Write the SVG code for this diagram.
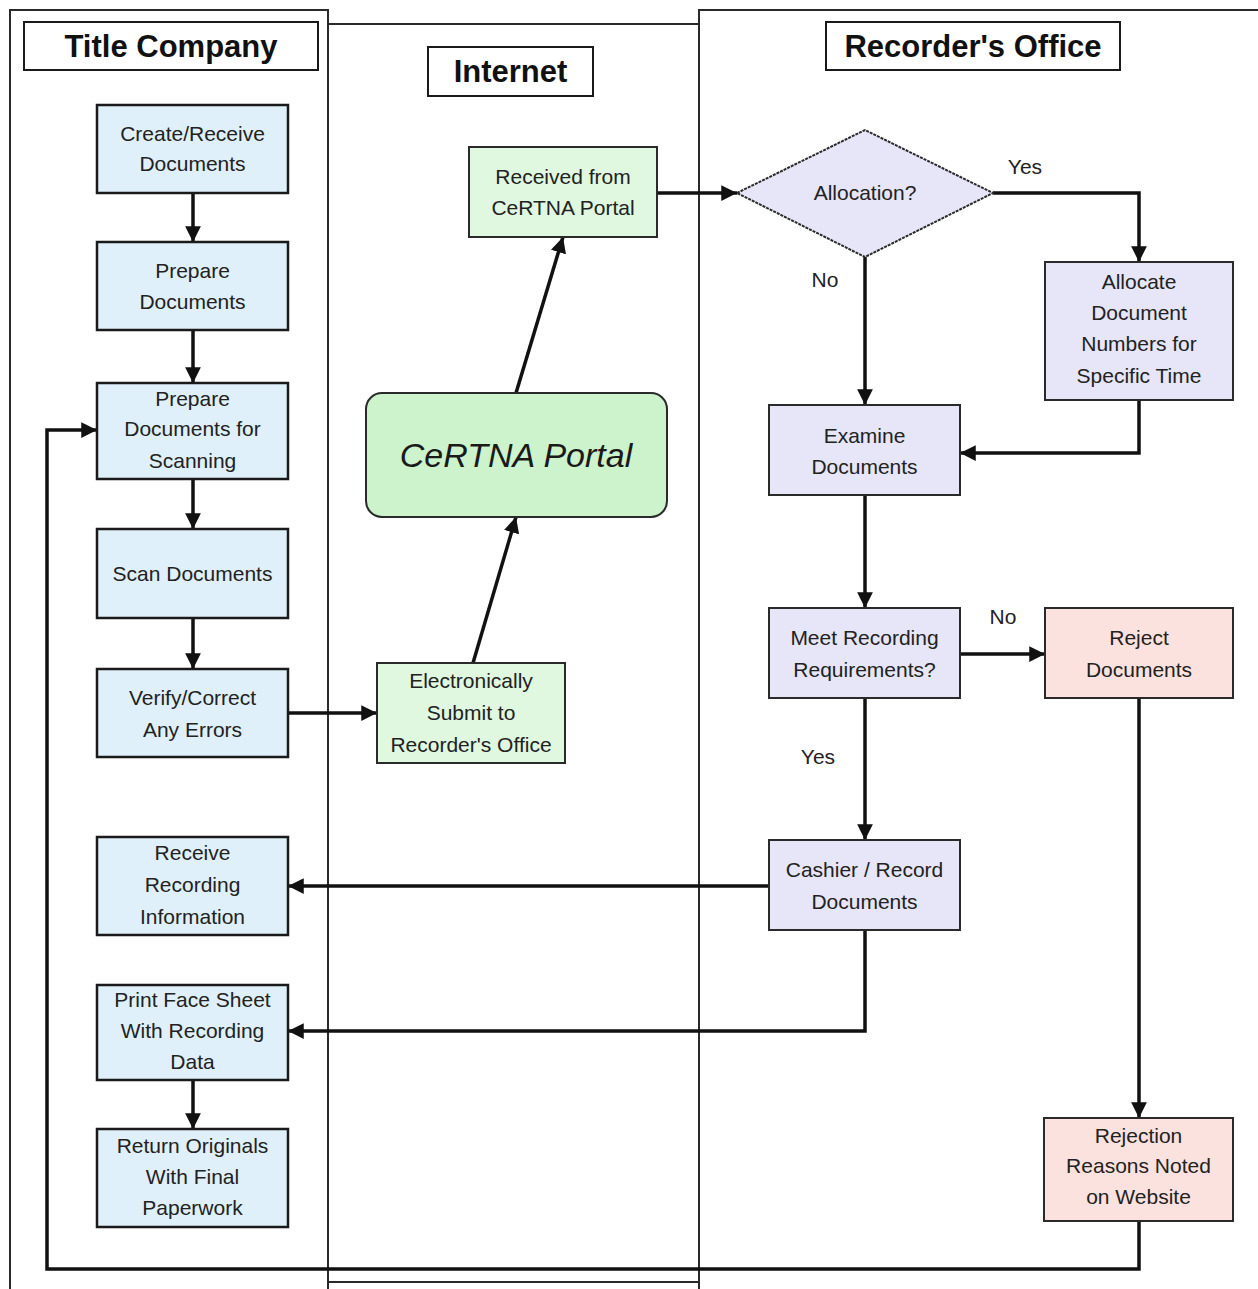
<svg xmlns="http://www.w3.org/2000/svg" width="1258" height="1289" viewBox="0 0 1258 1289">
<defs>
<style>
.lane{fill:none;stroke:#2a2a2a;stroke-width:2}
.hdr{fill:#fff;stroke:#1a1a1a;stroke-width:2}
.hdrt{font-family:"Liberation Sans",Arial,sans-serif;font-weight:bold;font-size:31px;fill:#111;text-anchor:middle}
.t{font-family:"Liberation Sans",Arial,sans-serif;font-size:21px;fill:#222;text-anchor:middle}
.tc{fill:#e0f0fa;stroke:#1a1a1a;stroke-width:2.5}
.ro{fill:#e6e6f8;stroke:#2a2a2a;stroke-width:2}
.rj{fill:#fce2de;stroke:#2a2a2a;stroke-width:2}
.gr{fill:#e0f8e0;stroke:#2a2a2a;stroke-width:2}
.cn{fill:none;stroke:#111;stroke-width:3.5}
</style>
<marker id="ah" viewBox="0 0 10 10" refX="10" refY="5" markerWidth="4.5" markerHeight="4.5" orient="auto" markerUnits="strokeWidth">
<path d="M0 0 L10 5 L0 10 Z" fill="#111"/>
</marker>
</defs>
<rect width="1258" height="1289" fill="#fff"/>
<g id="lanes">
<path class="lane" d="M10 1289 V10 H328 V1289"/>
<path class="lane" d="M328 24 H699 M328 1282 H699"/>
<path class="lane" d="M699 1289 V10 H1258"/>
<rect class="hdr" x="24" y="22" width="294" height="48"/>
<text class="hdrt" x="171" y="57">Title Company</text>
<rect class="hdr" x="428" y="47" width="165" height="49"/>
<text class="hdrt" x="510.5" y="82">Internet</text>
<rect class="hdr" x="826" y="22" width="294" height="48"/>
<text class="hdrt" x="973" y="57">Recorder's Office</text>
</g>
<g id="connectors">
<path class="cn" d="M193 193 V242" marker-end="url(#ah)"/>
<path class="cn" d="M193 330 V383" marker-end="url(#ah)"/>
<path class="cn" d="M193 479 V529" marker-end="url(#ah)"/>
<path class="cn" d="M193 618 V669" marker-end="url(#ah)"/>
<path class="cn" d="M193 1080 V1129" marker-end="url(#ah)"/>
<path class="cn" d="M288 713 H377" marker-end="url(#ah)"/>
<path class="cn" d="M473 663 L516 517" marker-end="url(#ah)"/>
<path class="cn" d="M516 393 L563 237" marker-end="url(#ah)"/>
<path class="cn" d="M657 193 H737" marker-end="url(#ah)"/>
<path class="cn" d="M993 193 H1139 V262" marker-end="url(#ah)"/>
<path class="cn" d="M865 257 V405" marker-end="url(#ah)"/>
<path class="cn" d="M1139 400 V453 H960" marker-end="url(#ah)"/>
<path class="cn" d="M865 495 V608" marker-end="url(#ah)"/>
<path class="cn" d="M960 654 H1045" marker-end="url(#ah)"/>
<path class="cn" d="M865 698 V840" marker-end="url(#ah)"/>
<path class="cn" d="M769 886 H288" marker-end="url(#ah)"/>
<path class="cn" d="M865 930 V1031 H288" marker-end="url(#ah)"/>
<path class="cn" d="M1139 698 V1118" marker-end="url(#ah)"/>
<path class="cn" d="M1139 1221 V1269 H47 V430 H97" marker-end="url(#ah)"/>
<text class="t" x="1025" y="174">Yes</text>
<text class="t" x="825" y="287">No</text>
<text class="t" x="1003" y="624">No</text>
<text class="t" x="818" y="764">Yes</text>
</g>
<g id="create">
<rect class="tc" x="97" y="105" width="191" height="88"/>
<text class="t" x="192.5" y="141">Create/Receive</text>
<text class="t" x="192.5" y="171">Documents</text>
</g>
<g id="prepare">
<rect class="tc" x="97" y="242" width="191" height="88"/>
<text class="t" x="192.5" y="278">Prepare</text>
<text class="t" x="192.5" y="309">Documents</text>
</g>
<g id="prepscan">
<rect class="tc" x="97" y="383" width="191" height="96"/>
<text class="t" x="192.5" y="406">Prepare</text>
<text class="t" x="192.5" y="436">Documents for</text>
<text class="t" x="192.5" y="468">Scanning</text>
</g>
<g id="scan">
<rect class="tc" x="97" y="529" width="191" height="89"/>
<text class="t" x="192.5" y="581">Scan Documents</text>
</g>
<g id="verify">
<rect class="tc" x="97" y="669" width="191" height="88"/>
<text class="t" x="192.5" y="705">Verify/Correct</text>
<text class="t" x="192.5" y="737">Any Errors</text>
</g>
<g id="receive">
<rect class="tc" x="97" y="837" width="191" height="98"/>
<text class="t" x="192.5" y="860">Receive</text>
<text class="t" x="192.5" y="892">Recording</text>
<text class="t" x="192.5" y="924">Information</text>
</g>
<g id="print">
<rect class="tc" x="97" y="985" width="191" height="95"/>
<text class="t" x="192.5" y="1007">Print Face Sheet</text>
<text class="t" x="192.5" y="1038">With Recording</text>
<text class="t" x="192.5" y="1069">Data</text>
</g>
<g id="return">
<rect class="tc" x="97" y="1129" width="191" height="98"/>
<text class="t" x="192.5" y="1153">Return Originals</text>
<text class="t" x="192.5" y="1184">With Final</text>
<text class="t" x="192.5" y="1215">Paperwork</text>
</g>
<g id="received">
<rect class="gr" x="469" y="147" width="188" height="90"/>
<text class="t" x="563" y="184">Received from</text>
<text class="t" x="563" y="215">CeRTNA Portal</text>
</g>
<g id="portal">
<rect x="366" y="393" width="301" height="124" rx="16" fill="#ccf3cc" stroke="#2a2a2a" stroke-width="2"/>
<text x="516" y="467" font-family="'Liberation Sans',Arial,sans-serif" font-size="34" font-style="italic" fill="#1a1a1a" text-anchor="middle">CeRTNA Portal</text>
</g>
<g id="submit">
<rect class="gr" x="377" y="663" width="188" height="100"/>
<text class="t" x="471" y="688">Electronically</text>
<text class="t" x="471" y="720">Submit to</text>
<text class="t" x="471" y="752">Recorder's Office</text>
</g>
<g id="allocation">
<polygon class="ro" points="737,193 865,130 993,193 865,257" stroke-dasharray="3 1"/>
<text class="t" x="865" y="200">Allocation?</text>
</g>
<g id="allocate">
<rect class="ro" x="1045" y="262" width="188" height="138"/>
<text class="t" x="1139" y="289">Allocate</text>
<text class="t" x="1139" y="320">Document</text>
<text class="t" x="1139" y="351">Numbers for</text>
<text class="t" x="1139" y="383">Specific Time</text>
</g>
<g id="examine">
<rect class="ro" x="769" y="405" width="191" height="90"/>
<text class="t" x="864.5" y="443">Examine</text>
<text class="t" x="864.5" y="474">Documents</text>
</g>
<g id="meet">
<rect class="ro" x="769" y="608" width="191" height="90"/>
<text class="t" x="864.5" y="645">Meet Recording</text>
<text class="t" x="864.5" y="677">Requirements?</text>
</g>
<g id="reject">
<rect class="rj" x="1045" y="608" width="188" height="90"/>
<text class="t" x="1139" y="645">Reject</text>
<text class="t" x="1139" y="677">Documents</text>
</g>
<g id="cashier">
<rect class="ro" x="769" y="840" width="191" height="90"/>
<text class="t" x="864.5" y="877">Cashier / Record</text>
<text class="t" x="864.5" y="909">Documents</text>
</g>
<g id="rejection">
<rect class="rj" x="1044" y="1118" width="189" height="103"/>
<text class="t" x="1138.5" y="1143">Rejection</text>
<text class="t" x="1138.5" y="1173">Reasons Noted</text>
<text class="t" x="1138.5" y="1204">on Website</text>
</g>
</svg>
